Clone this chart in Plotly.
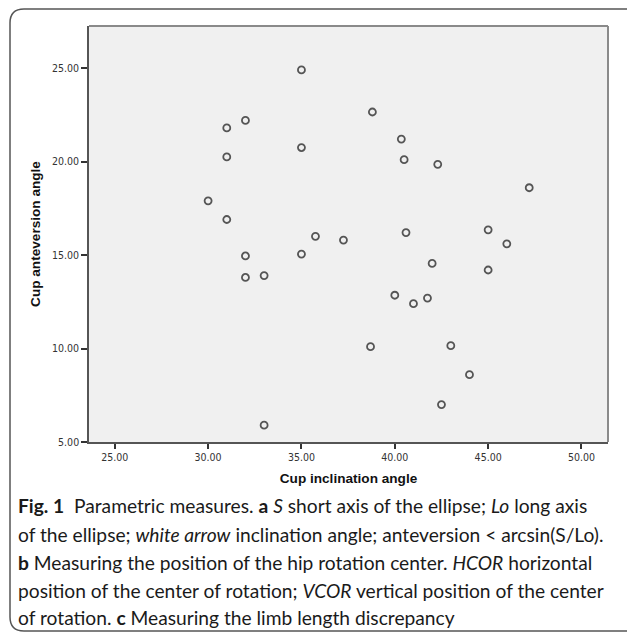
import plotly.graph_objects as go

# Data
inclination = [31.0, 32.0, 31.0, 30.0, 31.0, 35.0, 38.8, 35.0, 40.35, 40.5, 42.3, 47.2,
               32.0, 32.0, 35.75, 37.25, 35.0, 33.0, 40.6, 42.0, 40.0, 41.0, 41.75,
               38.7, 43.0, 42.5, 45.0, 46.0, 45.0, 44.0, 33.0]
anteversion = [21.8, 22.2, 20.25, 17.9, 16.9, 24.9, 22.65, 20.75, 21.2, 20.1, 19.85, 18.6,
               14.95, 13.8, 16.0, 15.8, 15.05, 13.9, 16.2, 14.55, 12.85, 12.4, 12.7,
               10.1, 10.15, 7.0, 16.35, 15.6, 14.2, 8.6, 5.9]
x_ticks = [25, 30, 35, 40, 45, 50]
y_ticks = [5, 10, 15, 20, 25]
x_title = "Cup inclination angle"
y_title = "Cup anteversion angle"
caption_lines = [
    "<b>Fig. 1</b>\u00a0\u00a0Parametric measures. <b>a</b> <i>S</i> short axis of the ellipse; <i>Lo</i> long axis",
    "of the ellipse; <i>white arrow</i> inclination angle; anteversion &lt; arcsin(S/Lo).",
    "<b>b</b> Measuring the position of the hip rotation center. <i>HCOR</i> horizontal",
    "position of the center of rotation; <i>VCOR</i> vertical position of the center",
    "of rotation. <b>c</b> Measuring the limb length discrepancy",
]

W, H = 627, 632
# plot area in page pixels: x 89..608, y 26..442
L, T = 89, 26
R = W - 608
B = H - 442
PW, PH = W - L - R, H - T - B


def px(xp):
    return (xp - L) / PW


def py(yp):
    return (H - B - yp) / PH


fig = go.Figure()
fig.add_trace(go.Scatter(
    x=inclination, y=anteversion, mode="markers",
    marker=dict(symbol="circle-open", size=7, color="#555555",
                line=dict(width=1.8, color="#555555")),
    showlegend=False, hoverinfo="x+y"))

tick_font = dict(family="Liberation Sans Narrow, Arial Narrow, DejaVu Sans Condensed, Arial",
                 size=10.5, color="#333333")
title_font = dict(family="Liberation Sans, Arial", size=13.6, color="#111111")

fig.update_xaxes(range=[23.62, 51.42], tickvals=x_ticks, tickformat=".2f",
                 ticks="outside", ticklen=5, tickwidth=1.5, tickcolor="#333333",
                 showline=True, linecolor="#555555", linewidth=1.5,
                 showgrid=False, zeroline=False, tickfont=tick_font,
                 title=dict(text="<b>%s</b>" % x_title, font=title_font, standoff=11))
fig.update_yaxes(range=[5, 27.25], tickvals=y_ticks, tickformat=".2f",
                 ticks="outside", ticklen=6, tickwidth=1.5, tickcolor="#333333",
                 showline=True, linecolor="#555555", linewidth=1.5,
                 showgrid=False, zeroline=False, tickfont=tick_font,
                 title=dict(text="<b>%s</b>" % y_title, font=title_font, standoff=8))

shapes = []
shapes.append(dict(type="line", xref="paper", yref="paper", x0=0, x1=1, y0=1, y1=1,
                   line=dict(color="#8a8a8a", width=2)))
shapes.append(dict(type="line", xref="paper", yref="paper", x0=1, x1=1, y0=0, y1=1,
                   line=dict(color="#8a8a8a", width=2)))
# outer rounded border (page pixels)
r = 14
x0b, y0b, x1b, y1b = 10, 9, 640, 631
path = ("M {a},{b} Q {c},{d} {e},{f} L {g},{h} L {i},{j} L {k},{l} Q {m},{n} {o},{p} Z").format(
    a=px(x0b), b=py(y0b + r), c=px(x0b), d=py(y0b), e=px(x0b + r), f=py(y0b),
    g=px(x1b), h=py(y0b), i=px(x1b), j=py(y1b), k=px(x0b + r), l=py(y1b),
    m=px(x0b), n=py(y1b), o=px(x0b), p=py(y1b - r))
shapes.append(dict(type="path", xref="paper", yref="paper", path=path,
                   line=dict(color="#555555", width=1.5), layer="below"))

annotations = []
cap_y = [506, 534, 562, 590, 617]
for line, yy in zip(caption_lines, cap_y):
    annotations.append(dict(text=line, xref="paper", yref="paper", x=px(16), y=py(yy),
                            xanchor="left", yanchor="middle", showarrow=False, align="left",
                            font=dict(family="Lato, Open Sans, sans-serif", size=19.2,
                                      color="#1a1a1a")))

fig.update_layout(width=W, height=H, autosize=False,
                  margin=dict(l=L, r=R, t=T, b=B),
                  plot_bgcolor="#f0f0f0", paper_bgcolor="white",
                  shapes=shapes, annotations=annotations)

fig.write_html("out.html",
               config={"displayModeBar": False},
               post_script="document.body.style.margin='0';"
                           "document.documentElement.style.overflow='hidden';")
